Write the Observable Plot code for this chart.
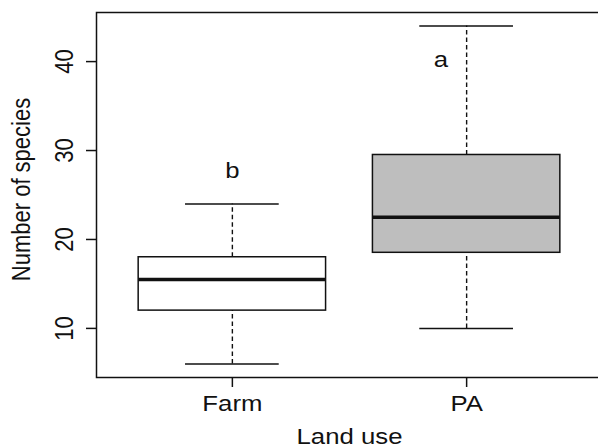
<!DOCTYPE html>
<html><head><meta charset="utf-8">
<script src="https://cdn.jsdelivr.net/npm/d3@7"></script>
<script src="https://cdn.jsdelivr.net/npm/@observablehq/plot@0.6"></script>
<style>html,body{margin:0;padding:0;background:#fff} svg{display:block}</style>
</head><body><div id="chart"></div>
<script>
const categories = ["Farm", "PA"];
const whiskerLow = [6, 10];
const lowerQuartile = [12, 18.5];
const medians = [15.5, 22.5];
const upperQuartile = [18, 29.5];
const whiskerHigh = [24, 44];
const boxFills = ["#ffffff", "#bebebe"];
const letters = ["b", "a"];
const letterX = [1, 1.89];
const letterY = [27.5, 40];
const yTicks = [10, 20, 30, 40];
const xLabel = "Land use";
const yLabel = "Number of species";

const boxes = categories.map((c, i) => ({
  cat: c, pos: i + 1, lo: whiskerLow[i], q1: lowerQuartile[i], med: medians[i],
  q3: upperQuartile[i], hi: whiskerHigh[i], fill: boxFills[i]
}));
const letterData = letters.map((t, i) => ({t, x: letterX[i], y: letterY[i]}));
const boxHalf = 0.4, capHalf = 0.2;
const font = "'Liberation Sans', Arial, Helvetica, sans-serif";
const ink = "#111";

const chart = Plot.plot({
  width: 598, height: 448,
  marginLeft: 96, marginRight: -4, marginTop: 12, marginBottom: 71,
  style: {fontFamily: font, fontSize: "22px", background: "#fff", color: ink},
  x: {type: "linear", domain: [0.42, 2.58], axis: null},
  y: {domain: [4.48, 45.52], axis: null},
  color: {type: "identity"},
  marks: [
    Plot.ruleX(boxes, {x: "pos", y1: "q3", y2: "hi", stroke: ink, strokeWidth: 1.4, strokeDasharray: "4.5,3"}),
    Plot.ruleX(boxes, {x: "pos", y1: "lo", y2: "q1", stroke: ink, strokeWidth: 1.4, strokeDasharray: "4.5,3"}),
    Plot.ruleY(boxes, {y: "hi", x1: d => d.pos - capHalf, x2: d => d.pos + capHalf, stroke: ink, strokeWidth: 1.5}),
    Plot.ruleY(boxes, {y: "lo", x1: d => d.pos - capHalf, x2: d => d.pos + capHalf, stroke: ink, strokeWidth: 1.5}),
    Plot.rect(boxes, {x1: d => d.pos - boxHalf, x2: d => d.pos + boxHalf, y1: "q1", y2: "q3", fill: "fill", stroke: ink, strokeWidth: 1.5}),
    Plot.ruleY(boxes, {y: "med", x1: d => d.pos - boxHalf, x2: d => d.pos + boxHalf, stroke: ink, strokeWidth: 3.5}),
    Plot.frame({stroke: ink, strokeWidth: 1.5}),
    Plot.axisY(yTicks, {anchor: "left", tickSize: 10, tickFormat: () => "", stroke: ink, strokeWidth: 1.5}),
    Plot.text(yTicks, {y: d => d, text: d => String(d), frameAnchor: "left", dx: -24, rotate: -90, textAnchor: "middle", lineAnchor: "bottom", fill: ink}),
    Plot.axisX(boxes.map(d => d.pos), {anchor: "bottom", tickSize: 10, tickFormat: () => "", stroke: ink, strokeWidth: 1.5}),
    Plot.text(boxes, {x: "pos", text: "cat", frameAnchor: "bottom", dy: 18, textAnchor: "middle", lineAnchor: "top", fill: ink}),
    Plot.text([xLabel], {text: d => d, frameAnchor: "bottom", dy: 51, textAnchor: "middle", lineAnchor: "top", fill: ink}),
    Plot.text([yLabel], {text: d => d, frameAnchor: "left", dx: -67, dy: -5.5, rotate: -90, textAnchor: "middle", lineAnchor: "bottom", fill: ink}),
    Plot.text(letterData, {x: "x", y: "y", text: "t", dy: -2, fill: ink})
  ]
});
document.getElementById("chart").append(chart);

// The reference's lettering is wider than it is tall: stretch every text horizontally about its anchor.
const stretch = 1.17;
d3.select(chart).selectAll("text").each(function () {
  const t = this.getAttribute("transform") || "";
  const m = /translate\(\s*([-\d.e]+)[\s,]+([-\d.e]+)\s*\)/.exec(t);
  const cx = m ? +m[1] : +(this.getAttribute("x") || 0);
  this.setAttribute("transform", `translate(${cx},0) scale(${stretch},1) translate(${-cx},0) ${t}`);
});
</script>
</body></html>
